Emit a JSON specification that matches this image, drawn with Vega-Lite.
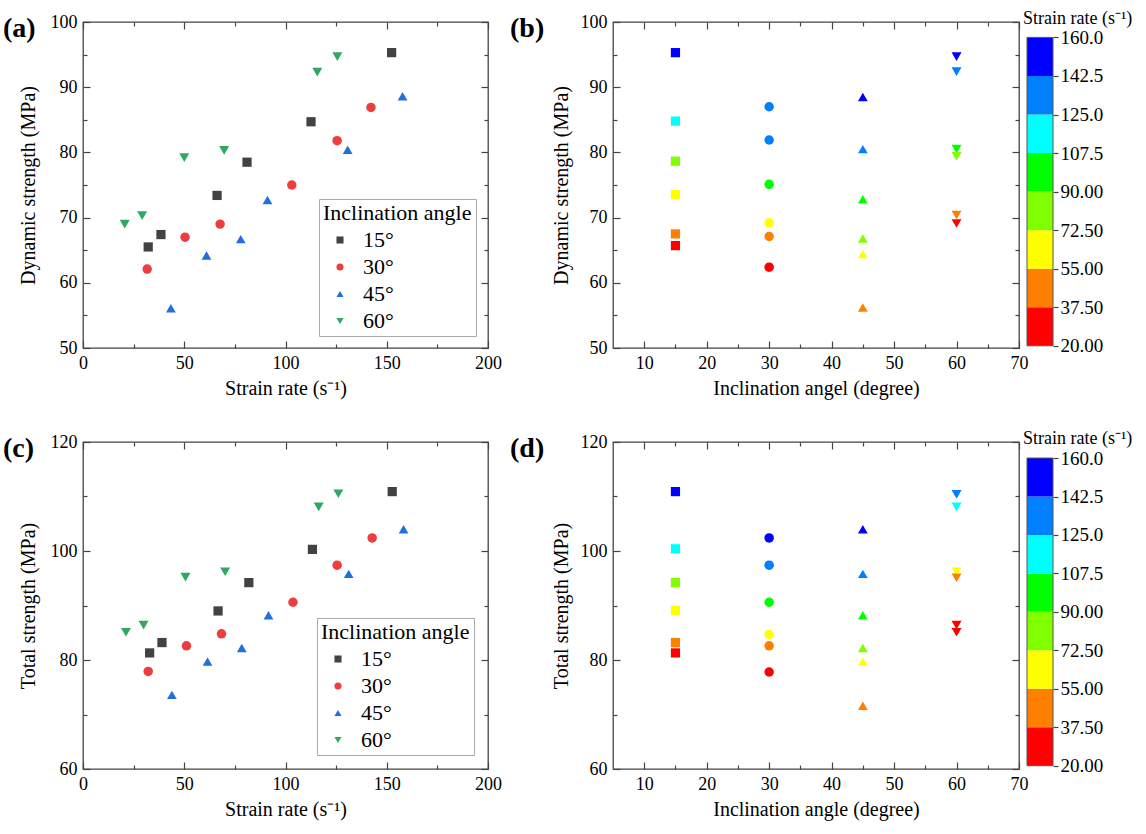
{
  "$schema": "https://vega.github.io/schema/vega-lite/v6.json",
  "padding": {"top": 10, "left": 2, "right": 5, "bottom": 5},
  "config": {
    "font": "Liberation Serif",
    "view": {"stroke": "#444", "strokeWidth": 1.3},
    "axis": {"domain": false, "grid": false, "tickColor": "#444", "tickWidth": 1.2, "labelFont": "Liberation Serif", "titleFont": "Liberation Serif", "labelFontSize": 18, "titleFontSize": 20, "titleFontWeight": "normal", "labelColor": "#000", "titleColor": "#000", "tickSize": -7, "labelPadding": 13, "titlePadding": 6, "labelFlush": false, "labelOverlap": false},
    "title": {"font": "Liberation Serif", "fontSize": 28, "fontWeight": "bold", "anchor": "start", "color": "#000"},
    "legend": {"orient": "bottom-right", "labelFont": "Liberation Serif", "titleFont": "Liberation Serif", "labelFontSize": 22, "titleFontSize": 22, "titleFontWeight": "normal", "labelColor": "#000", "titleColor": "#000", "strokeColor": "#aaa", "fillColor": "#fff", "padding": 4, "symbolSize": 50, "symbolOffset": 6, "labelOffset": 12, "rowPadding": 5, "titlePadding": 4, "offset": 12}
  },
  "datasets": {
    "a": [
      {"angle": "15°", "deg": 15, "rate": 152.4, "strength": 95.3},
      {"angle": "15°", "deg": 15, "rate": 112.6, "strength": 84.7},
      {"angle": "15°", "deg": 15, "rate": 81.0, "strength": 78.5},
      {"angle": "15°", "deg": 15, "rate": 66.2, "strength": 73.4},
      {"angle": "15°", "deg": 15, "rate": 38.5, "strength": 67.4},
      {"angle": "15°", "deg": 15, "rate": 32.2, "strength": 65.5},
      {"angle": "30°", "deg": 30, "rate": 142.2, "strength": 86.9},
      {"angle": "30°", "deg": 30, "rate": 125.5, "strength": 81.8},
      {"angle": "30°", "deg": 30, "rate": 103.1, "strength": 75.0},
      {"angle": "30°", "deg": 30, "rate": 67.7, "strength": 69.0},
      {"angle": "30°", "deg": 30, "rate": 50.4, "strength": 67.0},
      {"angle": "30°", "deg": 30, "rate": 31.7, "strength": 62.1},
      {"angle": "45°", "deg": 45, "rate": 157.8, "strength": 88.6},
      {"angle": "45°", "deg": 45, "rate": 130.7, "strength": 80.4},
      {"angle": "45°", "deg": 45, "rate": 91.1, "strength": 72.7},
      {"angle": "45°", "deg": 45, "rate": 77.9, "strength": 66.7},
      {"angle": "45°", "deg": 45, "rate": 61.0, "strength": 64.2},
      {"angle": "45°", "deg": 45, "rate": 43.4, "strength": 56.1},
      {"angle": "60°", "deg": 60, "rate": 125.6, "strength": 94.7},
      {"angle": "60°", "deg": 60, "rate": 115.7, "strength": 92.3},
      {"angle": "60°", "deg": 60, "rate": 69.7, "strength": 80.3},
      {"angle": "60°", "deg": 60, "rate": 50.0, "strength": 79.2},
      {"angle": "60°", "deg": 60, "rate": 29.2, "strength": 70.3},
      {"angle": "60°", "deg": 60, "rate": 20.6, "strength": 69.0}
    ],
    "b": [
      {"angle": "15°", "deg": 15, "rate": 152.4, "strength": 95.3},
      {"angle": "15°", "deg": 15, "rate": 112.6, "strength": 84.8},
      {"angle": "15°", "deg": 15, "rate": 81.0, "strength": 78.65},
      {"angle": "15°", "deg": 15, "rate": 66.2, "strength": 73.55},
      {"angle": "15°", "deg": 15, "rate": 38.5, "strength": 67.5},
      {"angle": "15°", "deg": 15, "rate": 32.2, "strength": 65.7},
      {"angle": "30°", "deg": 30, "rate": 142.2, "strength": 87.0},
      {"angle": "30°", "deg": 30, "rate": 125.5, "strength": 81.9},
      {"angle": "30°", "deg": 30, "rate": 103.1, "strength": 75.1},
      {"angle": "30°", "deg": 30, "rate": 67.7, "strength": 69.2},
      {"angle": "30°", "deg": 30, "rate": 50.4, "strength": 67.1},
      {"angle": "30°", "deg": 30, "rate": 31.7, "strength": 62.4},
      {"angle": "45°", "deg": 45, "rate": 157.8, "strength": 88.5},
      {"angle": "45°", "deg": 45, "rate": 130.7, "strength": 80.5},
      {"angle": "45°", "deg": 45, "rate": 91.1, "strength": 72.8},
      {"angle": "45°", "deg": 45, "rate": 77.9, "strength": 66.8},
      {"angle": "45°", "deg": 45, "rate": 61.0, "strength": 64.4},
      {"angle": "45°", "deg": 45, "rate": 43.4, "strength": 56.2},
      {"angle": "60°", "deg": 60, "rate": 150, "strength": 94.7},
      {"angle": "60°", "deg": 60, "rate": 135, "strength": 92.4},
      {"angle": "60°", "deg": 60, "rate": 100, "strength": 80.5},
      {"angle": "60°", "deg": 60, "rate": 80, "strength": 79.4},
      {"angle": "60°", "deg": 60, "rate": 45, "strength": 70.4},
      {"angle": "60°", "deg": 60, "rate": 30, "strength": 69.1}
    ],
    "c": [
      {"angle": "15°", "deg": 15, "rate": 152.7, "strength": 110.9},
      {"angle": "15°", "deg": 15, "rate": 113.3, "strength": 100.3},
      {"angle": "15°", "deg": 15, "rate": 81.9, "strength": 94.2},
      {"angle": "15°", "deg": 15, "rate": 66.7, "strength": 89.0},
      {"angle": "15°", "deg": 15, "rate": 39.0, "strength": 83.2},
      {"angle": "15°", "deg": 15, "rate": 32.9, "strength": 81.3},
      {"angle": "30°", "deg": 30, "rate": 142.8, "strength": 102.4},
      {"angle": "30°", "deg": 30, "rate": 125.5, "strength": 97.4},
      {"angle": "30°", "deg": 30, "rate": 103.7, "strength": 90.6},
      {"angle": "30°", "deg": 30, "rate": 68.4, "strength": 84.8},
      {"angle": "30°", "deg": 30, "rate": 51.1, "strength": 82.6},
      {"angle": "30°", "deg": 30, "rate": 32.2, "strength": 77.9},
      {"angle": "45°", "deg": 45, "rate": 158.3, "strength": 104.0},
      {"angle": "45°", "deg": 45, "rate": 131.2, "strength": 95.8},
      {"angle": "45°", "deg": 45, "rate": 91.6, "strength": 88.2},
      {"angle": "45°", "deg": 45, "rate": 78.4, "strength": 82.2},
      {"angle": "45°", "deg": 45, "rate": 61.5, "strength": 79.7},
      {"angle": "45°", "deg": 45, "rate": 43.9, "strength": 73.6},
      {"angle": "60°", "deg": 60, "rate": 126.1, "strength": 110.5},
      {"angle": "60°", "deg": 60, "rate": 116.4, "strength": 108.1},
      {"angle": "60°", "deg": 60, "rate": 70.2, "strength": 96.2},
      {"angle": "60°", "deg": 60, "rate": 50.6, "strength": 95.2},
      {"angle": "60°", "deg": 60, "rate": 29.9, "strength": 86.4},
      {"angle": "60°", "deg": 60, "rate": 21.2, "strength": 85.1}
    ],
    "d": [
      {"angle": "15°", "deg": 15, "rate": 152.7, "strength": 110.9},
      {"angle": "15°", "deg": 15, "rate": 113.3, "strength": 100.4},
      {"angle": "15°", "deg": 15, "rate": 81.9, "strength": 94.2},
      {"angle": "15°", "deg": 15, "rate": 66.7, "strength": 89.1},
      {"angle": "15°", "deg": 15, "rate": 39.0, "strength": 83.2},
      {"angle": "15°", "deg": 15, "rate": 32.9, "strength": 81.3},
      {"angle": "30°", "deg": 30, "rate": 142.8, "strength": 102.4},
      {"angle": "30°", "deg": 30, "rate": 125.5, "strength": 97.4},
      {"angle": "30°", "deg": 30, "rate": 103.7, "strength": 90.6},
      {"angle": "30°", "deg": 30, "rate": 68.4, "strength": 84.7},
      {"angle": "30°", "deg": 30, "rate": 51.1, "strength": 82.6},
      {"angle": "30°", "deg": 30, "rate": 32.2, "strength": 77.8},
      {"angle": "45°", "deg": 45, "rate": 158.3, "strength": 104.0},
      {"angle": "45°", "deg": 45, "rate": 131.2, "strength": 95.8},
      {"angle": "45°", "deg": 45, "rate": 91.6, "strength": 88.2},
      {"angle": "45°", "deg": 45, "rate": 78.4, "strength": 82.2},
      {"angle": "45°", "deg": 45, "rate": 61.5, "strength": 79.7},
      {"angle": "45°", "deg": 45, "rate": 43.9, "strength": 71.6},
      {"angle": "60°", "deg": 60, "rate": 126.1, "strength": 110.4},
      {"angle": "60°", "deg": 60, "rate": 116.4, "strength": 108.1},
      {"angle": "60°", "deg": 60, "rate": 70.2, "strength": 96.2},
      {"angle": "60°", "deg": 60, "rate": 50.6, "strength": 95.1},
      {"angle": "60°", "deg": 60, "rate": 29.9, "strength": 86.4},
      {"angle": "60°", "deg": 60, "rate": 21.2, "strength": 85.1}
    ],
    "bins": [
      {"lo": 20, "hi": 37.5},
      {"lo": 37.5, "hi": 55},
      {"lo": 55, "hi": 72.5},
      {"lo": 72.5, "hi": 90},
      {"lo": 90, "hi": 107.5},
      {"lo": 107.5, "hi": 125},
      {"lo": 125, "hi": 142.5},
      {"lo": 142.5, "hi": 160}
    ],
    "barframe": [{"lo": 20, "hi": 160}]
  },
  "spacing": 31,
  "vconcat": [
    {
      "bounds": "flush",
      "spacing": 125,
      "hconcat": [
        {
          "width": 405, "height": 326,
          "data": {"name": "a"},
          "title": {"text": "(a)", "frame": "bounds", "offset": -30, "dx": -15},
          "layer": [
            {
              "mark": {"type": "point", "filled": true, "opacity": 1},
              "encoding": {
                "x": {"field": "rate", "type": "quantitative", "scale": {"domain": [0, 200], "nice": false, "zero": false}, "axis": {"orient": "bottom", "values": [0, 50, 100, 150, 200], "title": "Strain rate (s⁻¹)"}},
                "y": {"field": "strength", "type": "quantitative", "scale": {"domain": [50, 100], "nice": false, "zero": false}, "axis": {"orient": "left", "values": [50, 60, 70, 80, 90, 100], "title": "Dynamic strength (MPa)", "titlePadding": 12}},
                "color": {"field": "angle", "type": "nominal", "scale": {"domain": ["15°", "30°", "45°", "60°"], "range": ["#424242", "#ee3d3d", "#1f6fe0", "#2fa862"]}, "legend": {"title": "Inclination angle", "symbolType": {"expr": "datum.value == '15°' ? 'square' : datum.value == '30°' ? 'circle' : datum.value == '45°' ? 'triangle-up' : 'triangle-down'"}}},
                "shape": {"field": "angle", "type": "nominal", "scale": {"domain": ["15°", "30°", "45°", "60°"], "range": ["square", "circle", "triangle-up", "triangle-down"]}, "legend": null},
                "size": {"field": "angle", "type": "nominal", "scale": {"domain": ["15°", "30°", "45°", "60°"], "range": [85, 100, 140, 140]}, "legend": null}
              }
            },
            {
              "mark": {"type": "point", "opacity": 0},
              "encoding": {
                "x": {"field": "rate", "type": "quantitative", "axis": {"orient": "top", "values": [0, 50, 100, 150, 200], "labels": false, "title": null}},
                "y": {"field": "strength", "type": "quantitative", "axis": {"orient": "right", "values": [50, 60, 70, 80, 90, 100], "labels": false, "title": null}}
              }
            },
            {
              "mark": {"type": "point", "opacity": 0},
              "encoding": {
                "x": {"field": "rate", "type": "quantitative", "axis": {"orient": "bottom", "values": [25, 75, 125, 175], "tickSize": -4, "labels": false, "title": null}},
                "y": {"field": "strength", "type": "quantitative", "axis": {"orient": "left", "values": [55, 65, 75, 85, 95], "tickSize": -4, "labels": false, "title": null}}
              }
            },
            {
              "mark": {"type": "point", "opacity": 0},
              "encoding": {
                "x": {"field": "rate", "type": "quantitative", "axis": {"orient": "top", "values": [25, 75, 125, 175], "tickSize": -4, "labels": false, "title": null}},
                "y": {"field": "strength", "type": "quantitative", "axis": {"orient": "right", "values": [55, 65, 75, 85, 95], "tickSize": -4, "labels": false, "title": null}}
              }
            }
          ],
          "resolve": {"axis": {"x": "independent", "y": "independent"}}
        },
        {
          "bounds": "flush",
          "spacing": 8,
          "hconcat": [
            {
              "width": 406, "height": 326,
              "data": {"name": "b"},
              "title": {"text": "(b)", "frame": "bounds", "offset": -30, "dx": -41},
              "layer": [
                {
                  "mark": {"type": "point", "filled": true, "opacity": 1},
                  "encoding": {
                    "x": {"field": "deg", "type": "quantitative", "scale": {"domain": [5, 70], "nice": false, "zero": false}, "axis": {"orient": "bottom", "values": [10, 20, 30, 40, 50, 60, 70], "title": "Inclination angel (degree)"}},
                    "y": {"field": "strength", "type": "quantitative", "scale": {"domain": [50, 100], "nice": false, "zero": false}, "axis": {"orient": "left", "values": [50, 60, 70, 80, 90, 100], "title": "Dynamic strength (MPa)", "titlePadding": 9}},
                    "color": {"field": "rate", "type": "quantitative", "scale": {"type": "threshold", "domain": [37.5, 55, 72.5, 90, 107.5, 125, 142.5], "range": ["#ff0000", "#ff8000", "#ffff00", "#80ff00", "#00ff00", "#00ffff", "#0080ff", "#0000ff"]}, "legend": null},
                    "shape": {"field": "angle", "type": "nominal", "scale": {"domain": ["15°", "30°", "45°", "60°"], "range": ["square", "circle", "triangle-up", "triangle-down"]}, "legend": null},
                    "size": {"field": "angle", "type": "nominal", "scale": {"domain": ["15°", "30°", "45°", "60°"], "range": [60, 75, 110, 110]}, "legend": null}
                  }
                },
                {
                  "mark": {"type": "point", "opacity": 0},
                  "encoding": {
                    "x": {"field": "deg", "type": "quantitative", "axis": {"orient": "top", "values": [10, 20, 30, 40, 50, 60, 70], "labels": false, "title": null}},
                    "y": {"field": "strength", "type": "quantitative", "axis": {"orient": "right", "values": [50, 60, 70, 80, 90, 100], "labels": false, "title": null}}
                  }
                },
                {
                  "mark": {"type": "point", "opacity": 0},
                  "encoding": {
                    "x": {"field": "deg", "type": "quantitative", "axis": {"orient": "bottom", "values": [15, 25, 35, 45, 55, 65], "tickSize": -4, "labels": false, "title": null}},
                    "y": {"field": "strength", "type": "quantitative", "axis": {"orient": "left", "values": [55, 65, 75, 85, 95], "tickSize": -4, "labels": false, "title": null}}
                  }
                },
                {
                  "mark": {"type": "point", "opacity": 0},
                  "encoding": {
                    "x": {"field": "deg", "type": "quantitative", "axis": {"orient": "top", "values": [15, 25, 35, 45, 55, 65], "tickSize": -4, "labels": false, "title": null}},
                    "y": {"field": "strength", "type": "quantitative", "axis": {"orient": "right", "values": [55, 65, 75, 85, 95], "tickSize": -4, "labels": false, "title": null}}
                  }
                }
              ],
              "resolve": {"axis": {"x": "independent", "y": "independent"}}
            },
            {
              "width": 26, "height": 326,
              "view": {"stroke": null},
              "title": {"text": "Strain rate (s⁻¹)", "frame": "group", "fontSize": 18, "fontWeight": "normal", "offset": -6, "dx": -4},
              "layer": [
                {
                  "data": {"name": "bins"},
                  "mark": {"type": "rect"},
                  "encoding": {
                    "y": {"field": "lo", "type": "quantitative", "scale": {"domain": [19, 167], "nice": false, "zero": false}, "axis": {"orient": "right", "values": [20, 37.5, 55, 72.5, 90, 107.5, 125, 142.5, 160], "format": ".4r", "tickSize": 5, "labelPadding": 2, "labelFontSize": 19, "title": null}},
                    "y2": {"field": "hi"},
                    "color": {"field": "lo", "type": "quantitative", "scale": {"type": "threshold", "domain": [37.5, 55, 72.5, 90, 107.5, 125, 142.5], "range": ["#ff0000", "#ff8000", "#ffff00", "#80ff00", "#00ff00", "#00ffff", "#0080ff", "#0000ff"]}, "legend": null}
                  }
                },
                {
                  "data": {"name": "barframe"},
                  "mark": {"type": "rect", "fillOpacity": 0, "stroke": "#555", "strokeWidth": 1},
                  "encoding": {
                    "y": {"field": "lo", "type": "quantitative"},
                    "y2": {"field": "hi"}
                  }
                }
              ]
            }
          ]
        }
      ]
    },
    {
      "bounds": "flush",
      "spacing": 125,
      "hconcat": [
        {
          "width": 405, "height": 327,
          "data": {"name": "c"},
          "title": {"text": "(c)", "frame": "bounds", "offset": -30, "dx": -15},
          "layer": [
            {
              "mark": {"type": "point", "filled": true, "opacity": 1},
              "encoding": {
                "x": {"field": "rate", "type": "quantitative", "scale": {"domain": [0, 200], "nice": false, "zero": false}, "axis": {"orient": "bottom", "values": [0, 50, 100, 150, 200], "title": "Strain rate (s⁻¹)"}},
                "y": {"field": "strength", "type": "quantitative", "scale": {"domain": [60, 120], "nice": false, "zero": false}, "axis": {"orient": "left", "values": [60, 80, 100, 120], "title": "Total strength (MPa)", "titlePadding": 12}},
                "color": {"field": "angle", "type": "nominal", "scale": {"domain": ["15°", "30°", "45°", "60°"], "range": ["#424242", "#ee3d3d", "#1f6fe0", "#2fa862"]}, "legend": {"title": "Inclination angle", "offset": 14, "symbolType": {"expr": "datum.value == '15°' ? 'square' : datum.value == '30°' ? 'circle' : datum.value == '45°' ? 'triangle-up' : 'triangle-down'"}}},
                "shape": {"field": "angle", "type": "nominal", "scale": {"domain": ["15°", "30°", "45°", "60°"], "range": ["square", "circle", "triangle-up", "triangle-down"]}, "legend": null},
                "size": {"field": "angle", "type": "nominal", "scale": {"domain": ["15°", "30°", "45°", "60°"], "range": [85, 100, 140, 140]}, "legend": null}
              }
            },
            {
              "mark": {"type": "point", "opacity": 0},
              "encoding": {
                "x": {"field": "rate", "type": "quantitative", "axis": {"orient": "top", "values": [0, 50, 100, 150, 200], "labels": false, "title": null}},
                "y": {"field": "strength", "type": "quantitative", "axis": {"orient": "right", "values": [60, 80, 100, 120], "labels": false, "title": null}}
              }
            },
            {
              "mark": {"type": "point", "opacity": 0},
              "encoding": {
                "x": {"field": "rate", "type": "quantitative", "axis": {"orient": "bottom", "values": [25, 75, 125, 175], "tickSize": -4, "labels": false, "title": null}},
                "y": {"field": "strength", "type": "quantitative", "axis": {"orient": "left", "values": [70, 90, 110], "tickSize": -4, "labels": false, "title": null}}
              }
            },
            {
              "mark": {"type": "point", "opacity": 0},
              "encoding": {
                "x": {"field": "rate", "type": "quantitative", "axis": {"orient": "top", "values": [25, 75, 125, 175], "tickSize": -4, "labels": false, "title": null}},
                "y": {"field": "strength", "type": "quantitative", "axis": {"orient": "right", "values": [70, 90, 110], "tickSize": -4, "labels": false, "title": null}}
              }
            }
          ],
          "resolve": {"axis": {"x": "independent", "y": "independent"}}
        },
        {
          "bounds": "flush",
          "spacing": 8,
          "hconcat": [
            {
              "width": 406, "height": 327,
              "data": {"name": "d"},
              "title": {"text": "(d)", "frame": "bounds", "offset": -30, "dx": -41},
              "layer": [
                {
                  "mark": {"type": "point", "filled": true, "opacity": 1},
                  "encoding": {
                    "x": {"field": "deg", "type": "quantitative", "scale": {"domain": [5, 70], "nice": false, "zero": false}, "axis": {"orient": "bottom", "values": [10, 20, 30, 40, 50, 60, 70], "title": "Inclination angle (degree)"}},
                    "y": {"field": "strength", "type": "quantitative", "scale": {"domain": [60, 120], "nice": false, "zero": false}, "axis": {"orient": "left", "values": [60, 80, 100, 120], "title": "Total strength (MPa)", "titlePadding": 9}},
                    "color": {"field": "rate", "type": "quantitative", "scale": {"type": "threshold", "domain": [37.5, 55, 72.5, 90, 107.5, 125, 142.5], "range": ["#ff0000", "#ff8000", "#ffff00", "#80ff00", "#00ff00", "#00ffff", "#0080ff", "#0000ff"]}, "legend": null},
                    "shape": {"field": "angle", "type": "nominal", "scale": {"domain": ["15°", "30°", "45°", "60°"], "range": ["square", "circle", "triangle-up", "triangle-down"]}, "legend": null},
                    "size": {"field": "angle", "type": "nominal", "scale": {"domain": ["15°", "30°", "45°", "60°"], "range": [60, 75, 110, 110]}, "legend": null}
                  }
                },
                {
                  "mark": {"type": "point", "opacity": 0},
                  "encoding": {
                    "x": {"field": "deg", "type": "quantitative", "axis": {"orient": "top", "values": [10, 20, 30, 40, 50, 60, 70], "labels": false, "title": null}},
                    "y": {"field": "strength", "type": "quantitative", "axis": {"orient": "right", "values": [60, 80, 100, 120], "labels": false, "title": null}}
                  }
                },
                {
                  "mark": {"type": "point", "opacity": 0},
                  "encoding": {
                    "x": {"field": "deg", "type": "quantitative", "axis": {"orient": "bottom", "values": [15, 25, 35, 45, 55, 65], "tickSize": -4, "labels": false, "title": null}},
                    "y": {"field": "strength", "type": "quantitative", "axis": {"orient": "left", "values": [70, 90, 110], "tickSize": -4, "labels": false, "title": null}}
                  }
                },
                {
                  "mark": {"type": "point", "opacity": 0},
                  "encoding": {
                    "x": {"field": "deg", "type": "quantitative", "axis": {"orient": "top", "values": [15, 25, 35, 45, 55, 65], "tickSize": -4, "labels": false, "title": null}},
                    "y": {"field": "strength", "type": "quantitative", "axis": {"orient": "right", "values": [70, 90, 110], "tickSize": -4, "labels": false, "title": null}}
                  }
                }
              ],
              "resolve": {"axis": {"x": "independent", "y": "independent"}}
            },
            {
              "width": 26, "height": 327,
              "view": {"stroke": null},
              "title": {"text": "Strain rate (s⁻¹)", "frame": "group", "fontSize": 18, "fontWeight": "normal", "offset": -6, "dx": -4},
              "layer": [
                {
                  "data": {"name": "bins"},
                  "mark": {"type": "rect"},
                  "encoding": {
                    "y": {"field": "lo", "type": "quantitative", "scale": {"domain": [18.5, 167.3], "nice": false, "zero": false}, "axis": {"orient": "right", "values": [20, 37.5, 55, 72.5, 90, 107.5, 125, 142.5, 160], "format": ".4r", "tickSize": 5, "labelPadding": 2, "labelFontSize": 19, "title": null}},
                    "y2": {"field": "hi"},
                    "color": {"field": "lo", "type": "quantitative", "scale": {"type": "threshold", "domain": [37.5, 55, 72.5, 90, 107.5, 125, 142.5], "range": ["#ff0000", "#ff8000", "#ffff00", "#80ff00", "#00ff00", "#00ffff", "#0080ff", "#0000ff"]}, "legend": null}
                  }
                },
                {
                  "data": {"name": "barframe"},
                  "mark": {"type": "rect", "fillOpacity": 0, "stroke": "#555", "strokeWidth": 1},
                  "encoding": {
                    "y": {"field": "lo", "type": "quantitative"},
                    "y2": {"field": "hi"}
                  }
                }
              ]
            }
          ]
        }
      ]
    }
  ]
}
